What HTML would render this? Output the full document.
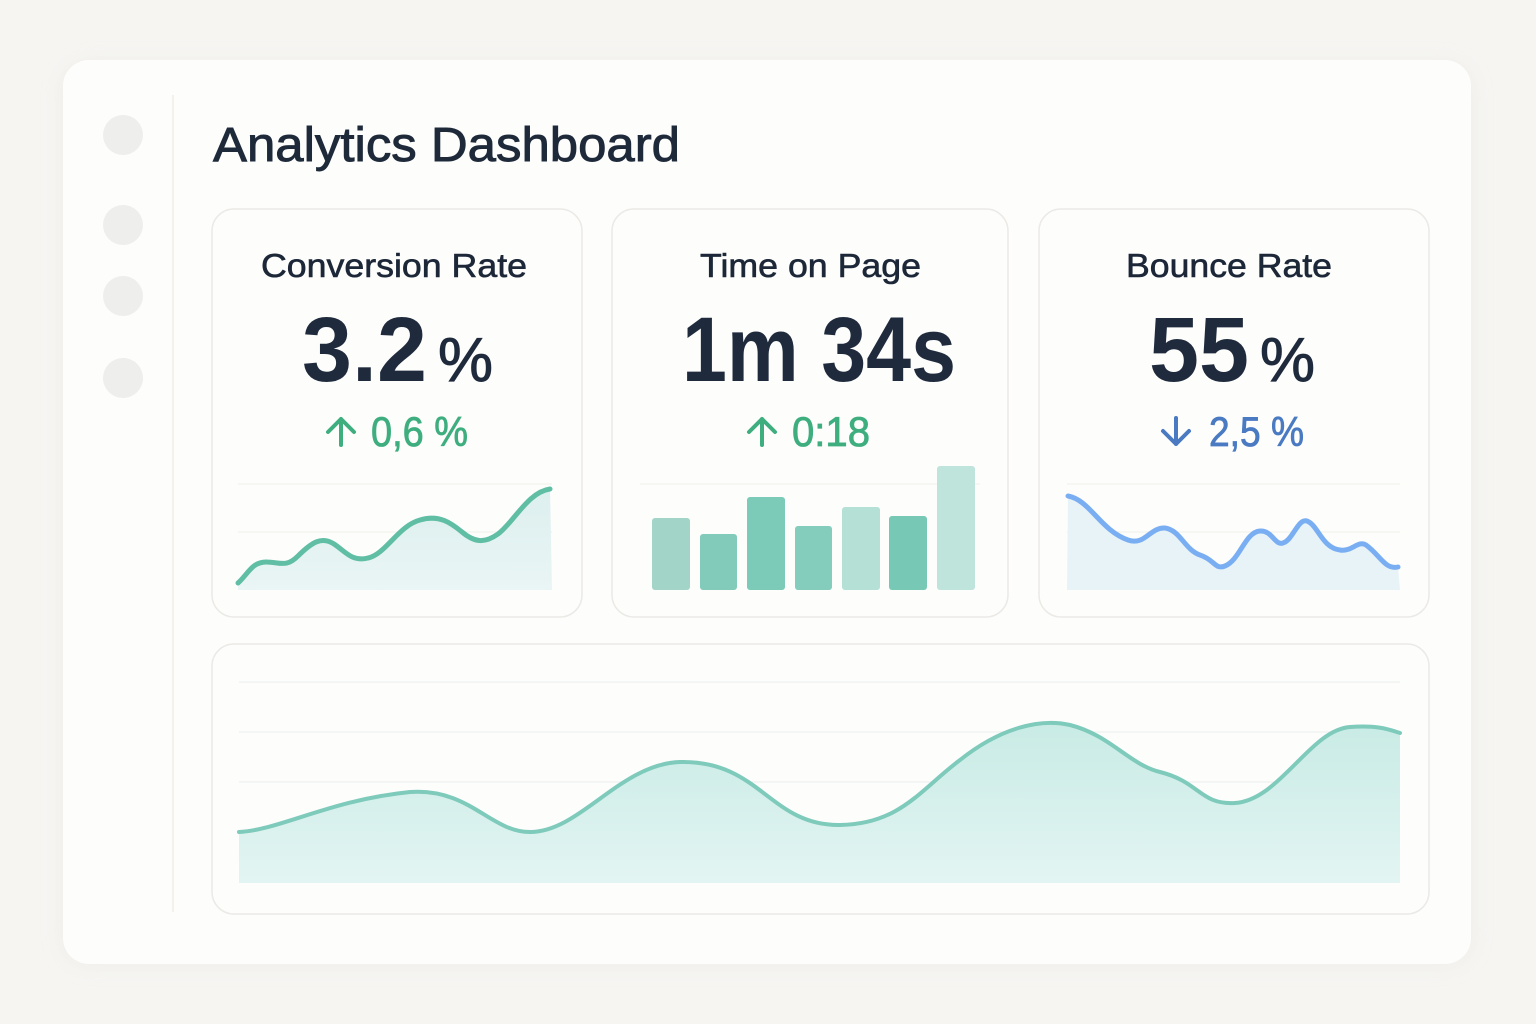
<!DOCTYPE html>
<html><head><meta charset="utf-8"><style>
html,body{margin:0;padding:0;background:#f6f5f2;}
svg{display:block}
text{font-family:"Liberation Sans",sans-serif;}
</style></head><body>
<svg width="1536" height="1024" viewBox="0 0 1536 1024" xmlns="http://www.w3.org/2000/svg">
<defs>
<filter id="sh" x="-10%" y="-10%" width="120%" height="120%"><feGaussianBlur stdDeviation="10"/></filter>
<linearGradient id="g1" x1="0" y1="0" x2="0" y2="1"><stop offset="0" stop-color="#dcefee"/><stop offset="1" stop-color="#eaf5f5"/></linearGradient>
<linearGradient id="g3" x1="0" y1="0" x2="0" y2="1"><stop offset="0" stop-color="#c9ebe5"/><stop offset="1" stop-color="#e3f5f3"/></linearGradient>
</defs>
<rect width="1536" height="1024" fill="#f6f5f2"/>
<rect x="63" y="64" width="1408" height="900" rx="26" fill="#e8e6e0" filter="url(#sh)" opacity="0.6"/>
<rect x="63" y="60" width="1408" height="904" rx="26" fill="#fdfdfc"/>
<line x1="173" y1="95" x2="173" y2="912" stroke="#f2f1ee" stroke-width="2"/>
<g fill="#eeeeec">
<circle cx="123" cy="135" r="20"/><circle cx="123" cy="225" r="20"/><circle cx="123" cy="296" r="20"/><circle cx="123" cy="378" r="20"/>
</g>
<text x="213" y="161" font-size="48" fill="#1e2a3a" stroke="#1e2a3a" stroke-width="0.9" textLength="467" lengthAdjust="spacingAndGlyphs">Analytics Dashboard</text>

<g fill="#fdfdfc" stroke="#ebeae6" stroke-width="1.5">
<rect x="212" y="209" width="370" height="408" rx="22"/>
<rect x="612" y="209" width="396" height="408" rx="22"/>
<rect x="1039" y="209" width="390" height="408" rx="22"/>
<rect x="212" y="644" width="1217" height="270" rx="22"/>
</g>

<g fill="#1c2738" stroke="#1c2738" stroke-width="0.6" font-size="33">
<text x="261" y="277" textLength="266" lengthAdjust="spacingAndGlyphs">Conversion Rate</text>
<text x="700" y="277" textLength="221" lengthAdjust="spacingAndGlyphs">Time on Page</text>
<text x="1126" y="277" textLength="206" lengthAdjust="spacingAndGlyphs">Bounce Rate</text>
</g>
<g fill="#1f2b3c" font-weight="bold">
<text x="302" y="381" font-size="92" textLength="125" lengthAdjust="spacingAndGlyphs">3.2</text>
<text x="438" y="381" font-size="62" font-weight="normal" stroke="#1f2b3c" stroke-width="1" textLength="55" lengthAdjust="spacingAndGlyphs">%</text>
<text x="682" y="381" font-size="92" textLength="274" lengthAdjust="spacingAndGlyphs">1m 34s</text>
<text x="1149" y="381" font-size="92" textLength="100" lengthAdjust="spacingAndGlyphs">55</text>
<text x="1260" y="381" font-size="62" font-weight="normal" stroke="#1f2b3c" stroke-width="1" textLength="55" lengthAdjust="spacingAndGlyphs">%</text>
</g>
<g font-size="42" stroke-width="0.8">
<text x="371" y="446" fill="#3fae7f" stroke="#3fae7f" textLength="97" lengthAdjust="spacingAndGlyphs">0,6 %</text>
<text x="792" y="446" fill="#3fae7f" stroke="#3fae7f" textLength="78" lengthAdjust="spacingAndGlyphs">0:18</text>
<text x="1209" y="446" fill="#4a7ac2" stroke="#4a7ac2" textLength="95" lengthAdjust="spacingAndGlyphs">2,5 %</text>
</g>
<g stroke-width="4" fill="none" stroke-linecap="round" stroke-linejoin="round">
<path d="M341 445 V419 M328 432 L341 419 L354 432" stroke="#3fae7f"/>
<path d="M762 445 V419 M749 432 L762 419 L775 432" stroke="#3fae7f"/>
<path d="M1176 418 V444 M1163 431 L1176 444 L1189 431" stroke="#4a7ac2"/>
</g>

<g stroke="#f4f3f0" stroke-width="1.5"><line x1="238" y1="484" x2="552" y2="484"/><line x1="238" y1="532" x2="552" y2="532"/>
<line x1="640" y1="484" x2="980" y2="484"/><line x1="1067" y1="484" x2="1400" y2="484"/><line x1="1067" y1="532" x2="1400" y2="532"/></g>
<path d="M238 583 C248 574 252 562 266 562 C280 562 286 568 298 556 C312 542 322 536 334 544 C346 552 352 562 368 558 C386 554 398 526 420 520 C440 514 452 524 462 532 C474 542 484 544 498 534 C514 522 528 492 550 489 L552 590 L238 590 Z" fill="url(#g1)"/>
<path d="M238 583 C248 574 252 562 266 562 C280 562 286 568 298 556 C312 542 322 536 334 544 C346 552 352 562 368 558 C386 554 398 526 420 520 C440 514 452 524 462 532 C474 542 484 544 498 534 C514 522 528 492 550 489" fill="none" stroke="#5fbea3" stroke-width="5" stroke-linecap="round"/>

<g>
<rect x="652" y="518" width="38" height="72" rx="3" fill="#a2d5c8"/>
<rect x="700" y="534" width="37" height="56" rx="3" fill="#82cbbb"/>
<rect x="747" y="497" width="38" height="93" rx="3" fill="#7ccab8"/>
<rect x="795" y="526" width="37" height="64" rx="3" fill="#84ccbc"/>
<rect x="842" y="507" width="38" height="83" rx="3" fill="#b4e0d6"/>
<rect x="889" y="516" width="38" height="74" rx="3" fill="#78c8b6"/>
<rect x="937" y="466" width="38" height="124" rx="3" fill="#bfe4db"/>
</g>

<path d="M1068 496 C1090 500 1100 530 1128 540 C1145 546 1150 527 1165 528 C1180 530 1185 550 1200 555 C1215 560 1215 570 1225 566 C1240 560 1245 532 1260 531 C1272 530 1275 546 1283 543 C1293 540 1298 518 1307 521 C1318 525 1322 548 1340 550 C1352 552 1358 540 1366 545 C1380 555 1385 570 1398 567 L1400 590 L1067 590 Z" fill="#e8f3f8"/>
<path d="M1068 496 C1090 500 1100 530 1128 540 C1145 546 1150 527 1165 528 C1180 530 1185 550 1200 555 C1215 560 1215 570 1225 566 C1240 560 1245 532 1260 531 C1272 530 1275 546 1283 543 C1293 540 1298 518 1307 521 C1318 525 1322 548 1340 550 C1352 552 1358 540 1366 545 C1380 555 1385 570 1398 567" fill="none" stroke="#7aaef2" stroke-width="5" stroke-linecap="round"/>

<g stroke="#eff2f1" stroke-width="1.2"><line x1="239" y1="682" x2="1400" y2="682"/><line x1="239" y1="732" x2="1400" y2="732"/><line x1="239" y1="782" x2="1400" y2="782"/><line x1="239" y1="832" x2="1400" y2="832"/></g>
<path d="M239 832 C280 830 330 800 410 792 C470 788 490 832 530 832 C580 832 620 764 680 762 C760 760 770 826 840 825 C900 824 920 790 960 760 C1000 728 1040 718 1070 725 C1110 735 1130 765 1160 772 C1200 782 1200 805 1235 803 C1280 800 1310 730 1350 727 C1380 725 1390 730 1400 733 L1400 883 L239 883 Z" fill="url(#g3)"/>
<path d="M239 832 C280 830 330 800 410 792 C470 788 490 832 530 832 C580 832 620 764 680 762 C760 760 770 826 840 825 C900 824 920 790 960 760 C1000 728 1040 718 1070 725 C1110 735 1130 765 1160 772 C1200 782 1200 805 1235 803 C1280 800 1310 730 1350 727 C1380 725 1390 730 1400 733" fill="none" stroke="#7ecabb" stroke-width="4" stroke-linecap="round"/>
</svg>
</body></html>
